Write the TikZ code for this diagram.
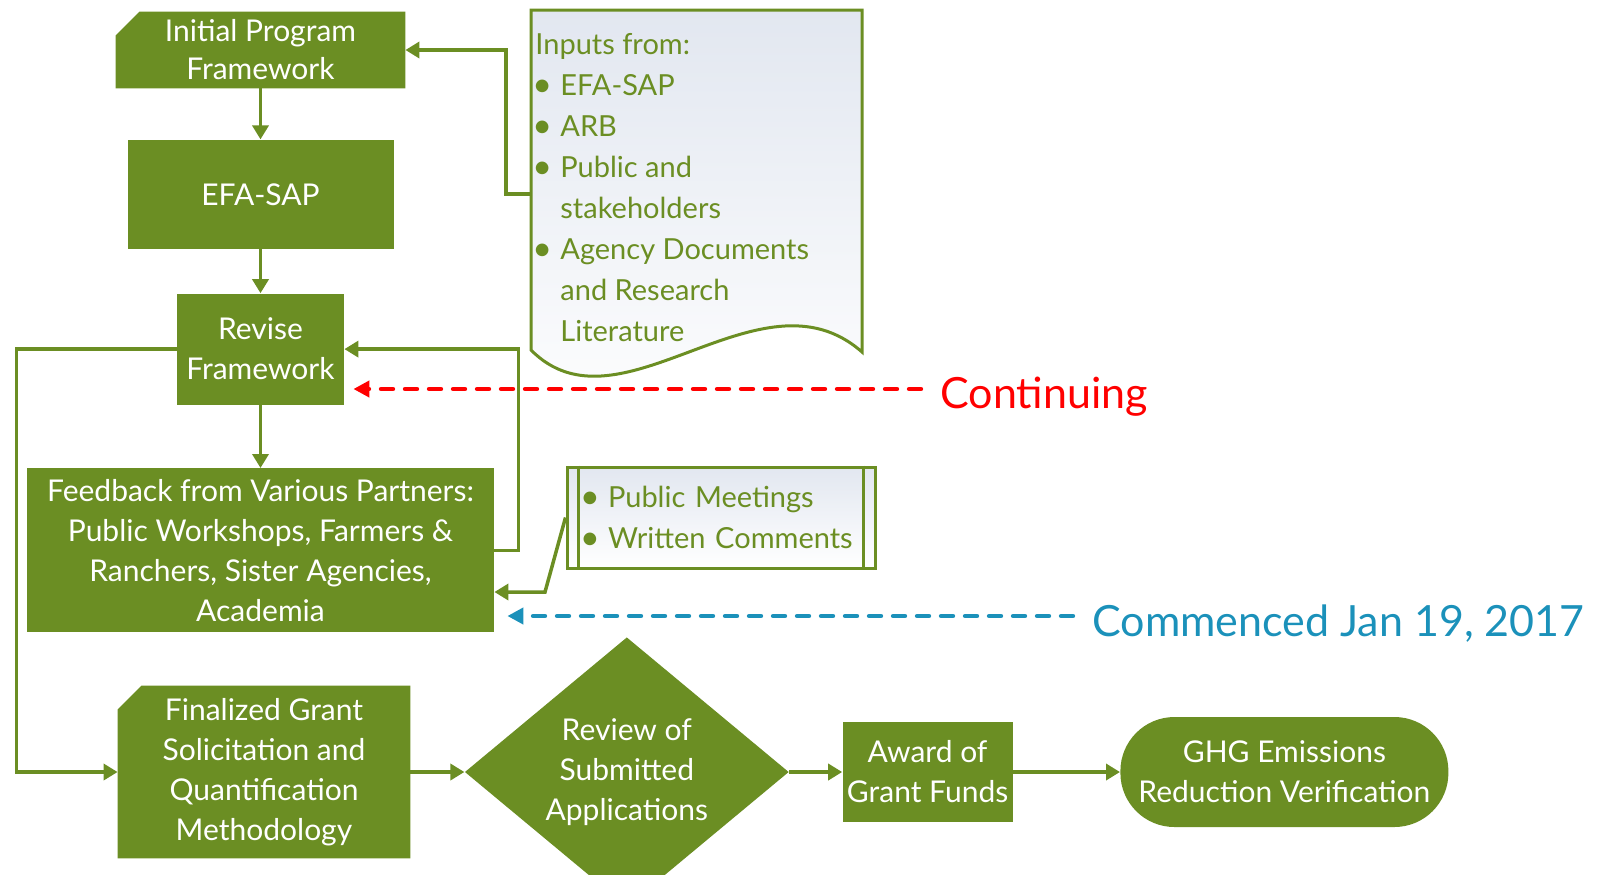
\documentclass[tikz,border=0pt]{standalone}
\usepackage{fontspec}
\setmainfont{Lato}
\usetikzlibrary{arrows.meta,positioning,shapes.geometric,backgrounds}
\definecolor{leaf}{HTML}{6B8E23}
\definecolor{sky}{HTML}{1B91BA}
\definecolor{paper}{HTML}{E2E7F0}
\newcommand{\itemdot}{\makebox[12.5pt][l]{\hspace{-1.5pt}\raisebox{-0.6pt}{\fontsize{17}{0}\selectfont\textbullet}}}
\newcommand{\itemgap}{\hspace*{12.5pt}}

\begin{document}
\begin{tikzpicture}[
			x=0.5pt, y=-0.5pt,
			box/.style = {fill=leaf, text=white, align=center, inner sep=2pt,
				font=\fontsize{15}{20}\selectfont},
			snip/.style = {box, fill=none},
			sheet/.style = {draw=leaf, line width=1.5pt, top color=paper, bottom color=white},
			flow/.style = {draw=leaf, line width=1.75pt, -{Triangle[length=7pt,width=8pt]}},
			note/.style = {line width=2.2pt, dash pattern=on 6pt off 6pt, line cap=round,
				-{Triangle[length=8pt,width=8pt]}},
			notetext/.style = {inner sep=0pt, anchor=base west, font=\fontsize{21.5}{24}\selectfont}
		]
		\useasboundingbox (0,0) rectangle (1605,874);
		% main column
		\node[snip, minimum width=144.5pt, minimum height=38pt, font=\fontsize{15}{19}\selectfont] (init) at (260.5,50) {Initial Program\\Framework};
		\node[box, minimum width=133pt, minimum height=54.5pt, below=25.5pt of init] (efa) {EFA-SAP};
		\node[box, minimum width=83.5pt, minimum height=55.5pt, below=22pt of efa] (revise) {Revise\\Framework};
		\node[box, minimum width=233.5pt, minimum height=82pt, below=31.5pt of revise] (feedback) {Feedback from Various Partners:\\Public Workshops, Farmers \&\\Ranchers, Sister Agencies,\\Academia};
		% bottom row
		\node[snip, minimum width=146pt, minimum height=86pt] (final) at (264,772) {Finalized Grant\\Solicitation and\\Quantification\\Methodology};
		\node[box, diamond, minimum width=162pt, minimum height=103pt, inner sep=0pt, right=27pt of final] (review) {Review of\\Submitted\\Applications};
		\node[box, minimum width=85pt, minimum height=50pt, right=26.5pt of review] (award) {Award of\\Grant Funds};
		\node[box, rounded corners=27pt, minimum width=164pt, minimum height=55pt, right=53.5pt of award] (ghg) {GHG Emissions\\Reduction Verification};
		% snipped corners behind the text
		\begin{scope}[on background layer]
			\foreach \snipname in {init,final}
				\fill[leaf] (\snipname.south west) -- (\snipname.south east) -- (\snipname.north east)
					-- ([xshift=12pt]\snipname.north west) -- ([yshift=-12pt]\snipname.north west) -- cycle;
		\end{scope}
		% inputs document
		\draw[sheet] (531,10) -- (862,10) -- (862,352) .. controls (760,262) and (620,440) .. (531,350) -- cycle;
		\coordinate (docin) at (531,194);
		\node[anchor=north west, inner sep=0pt, align=left, text=leaf, font=\fontsize{14.5}{20.5}\selectfont] (inputs) at (535,33) {Inputs from:\\\itemdot EFA-SAP\\\itemdot ARB\\\itemdot Public and\\\itemgap stakeholders\\\itemdot Agency Documents\\\itemgap and Research\\\itemgap Literature};
		% meetings box
		\node[sheet, text=leaf, align=left, text width=138pt, inner xsep=8pt, minimum width=154pt, minimum height=50.5pt, font=\fontsize{14.5}{20.5}\selectfont] (meet) at (721,517.5) {\itemdot Public Meetings\\\itemdot Written Comments};
		\draw[leaf, line width=1.5pt] ([xshift=6.5pt]meet.north west) -- ([xshift=6.5pt]meet.south west);
		\draw[leaf, line width=1.5pt] ([xshift=-6.5pt]meet.north east) -- ([xshift=-6.5pt]meet.south east);
		% status labels
		\node[notetext, text=red] (cont) at (940,408) {Continuing};
		\node[notetext, text=sky] (comm) at (1092,636) {Commenced Jan 19, 2017};
		\coordinate (contend) at (921,389);
		\coordinate (commend) at (1073,616);
		\coordinate (bend) at (545,592);

		\draw[flow] (init) -- (efa);
		\draw[flow] (efa) -- (revise);
		\draw[flow] (revise) -- (feedback);
		\draw[flow] (docin) -- ++(-25,0) |- (init.east);
		\draw[flow] (feedback.east) -- ++(24,0) |- (revise.east);
		\draw[flow] (revise.west) -- ++(-160,0) |- (final.west);
		\draw[flow] (meet.west) -- (bend) -- (bend -| feedback.east);
		\draw[flow] (final) -- (review);
		\draw[flow] (review) -- (award);
		\draw[flow] (award) -- (ghg);
		\draw[note, red, shorten >=4.5pt] (contend) -- (contend -| revise.east);
		\draw[note, sky, shorten >=6.5pt] (commend) -- (commend -| feedback.east);
	\end{tikzpicture}
\end{document}
